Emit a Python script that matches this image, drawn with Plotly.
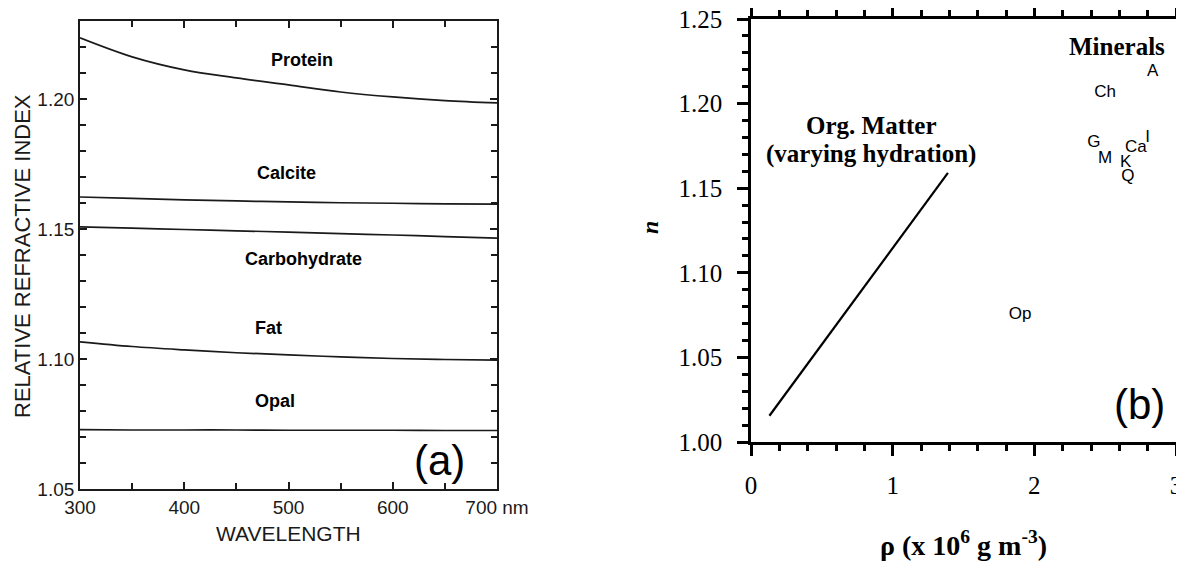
"""Two-panel figure: refractive index vs wavelength (a) and vs density (b)."""
import plotly.graph_objects as go

# ---- panel (a): relative refractive index vs wavelength ----
wavelength = [300, 350, 400, 450, 500, 550, 600, 650, 700]
protein = [1.2235, 1.2162, 1.2112, 1.2081, 1.2054, 1.2027, 1.2008, 1.1994, 1.1985]
calcite = [1.1623, 1.1618, 1.1612, 1.1608, 1.1604, 1.1601, 1.1599, 1.1597, 1.1596]
carbohydrate = [1.1508, 1.1503, 1.1498, 1.1493, 1.1488, 1.1482, 1.1477, 1.1471, 1.1465]
fat = [1.1066, 1.1048, 1.1035, 1.1024, 1.1016, 1.1008, 1.1002, 1.0998, 1.0996]
opal = [1.0728, 1.0727, 1.0727, 1.0727, 1.0726, 1.0726, 1.0726, 1.0725, 1.0725]
curve_names = ["Protein", "Calcite", "Carbohydrate", "Fat", "Opal"]
wl_ticks = [300, 400, 500, 600, 700]
wl_labels = ["300", "400", "500", "600", "700 nm"]
ri_ticks = [1.05, 1.10, 1.15, 1.20]

# ---- panel (b): n vs density ----
org_rho = [0.13, 1.39]
org_n = [1.0155, 1.159]
mineral_names = ["A", "Ch", "G", "M", "Ca", "I", "K", "Q", "Op"]
mineral_rho = [2.835, 2.50, 2.42, 2.50, 2.716, 2.80, 2.645, 2.66, 1.90]
mineral_n = [1.2188, 1.2064, 1.177, 1.1675, 1.174, 1.180, 1.165, 1.157, 1.075]
rho_ticks = [0, 1, 2, 3]
n_ticks = [1.00, 1.05, 1.10, 1.15, 1.20, 1.25]

SANS = "Liberation Sans, Arial, sans-serif"
SERIF = "Liberation Serif, Times New Roman, serif"
INK = "#1a1a1a"
# the page body has an 8px margin, so positions are shifted by it
OFF = 8
W, H = 1184 - OFF, 561 - OFF


def px(x):
    return (x - OFF) / W


def py(y):
    return 1 - (y - OFF) / H


def paper_text(x, y, text, font, angle=0):
    fig.add_annotation(x=px(x), y=py(y), xref="paper", yref="paper", text=text,
                       textangle=angle, showarrow=False, xanchor="center", yanchor="middle",
                       font=font)


fig = go.Figure()

for series in [protein, calcite, carbohydrate, fat, opal]:
    fig.add_trace(go.Scatter(
        x=wavelength, y=series, mode="lines", line=dict(color=INK, width=1.7, shape="spline"),
        xaxis="x", yaxis="y", showlegend=False, hoverinfo="skip",
    ))

fig.add_trace(go.Scatter(
    x=org_rho, y=org_n, mode="lines", line=dict(color="black", width=2.2),
    xaxis="x2", yaxis="y2", showlegend=False,
))
fig.add_trace(go.Scatter(
    x=mineral_rho, y=mineral_n, mode="text", text=mineral_names,
    textfont=dict(family=SANS, size=17, color="black"),
    xaxis="x2", yaxis="y2", showlegend=False,
))

label_pos = {"Protein": (513, 1.215), "Calcite": (498, 1.1715), "Carbohydrate": (514, 1.1385),
             "Fat": (481, 1.112), "Opal": (487, 1.084)}
for name in curve_names:
    x, y = label_pos[name]
    fig.add_annotation(x=x, y=y, xref="x", yref="y", text=f"<b>{name}</b>", showarrow=False,
                       font=dict(family=SANS, size=18, color="black"))

fig.add_annotation(x=645, y=1.0608, xref="x", yref="y", text="(a)", showarrow=False,
                   font=dict(family=SANS, size=42, color="black"))
paper_text(22, 256, "RELATIVE REFRACTIVE INDEX", dict(family=SANS, size=22, color=INK), angle=-90)
paper_text(288, 533, "WAVELENGTH", dict(family=SANS, size=21, color=INK))

fig.add_annotation(x=2.58, y=1.2335, xref="x2", yref="y2", text="<b>Minerals</b>", showarrow=False,
                   font=dict(family=SERIF, size=25, color="black"))
fig.add_annotation(x=0.85, y=1.187, xref="x2", yref="y2", text="<b>Org. Matter</b>", showarrow=False,
                   font=dict(family=SERIF, size=25, color="black"))
fig.add_annotation(x=0.85, y=1.1705, xref="x2", yref="y2", text="<b>(varying hydration)</b>",
                   showarrow=False, font=dict(family=SERIF, size=25, color="black"))
fig.add_annotation(x=2.74, y=1.0224, xref="x2", yref="y2", text="(b)", showarrow=False,
                   font=dict(family=SANS, size=42, color="black"))
paper_text(650, 228, "<b><i>n</i></b>", dict(family=SERIF, size=24, color="black"), angle=-90)
paper_text(963, 543, "<b>ρ (x 10<sup>6</sup> g m<sup>-3</sup>)</b>",
           dict(family=SERIF, size=28, color="black"))

axis_a = dict(showgrid=False, zeroline=False, showline=True, linecolor=INK, linewidth=1.7,
              mirror="ticks", ticks="inside", ticklen=7, tickwidth=1.5, tickcolor=INK,
              automargin=False, ticklabeloverflow="allow",
              tickfont=dict(family=SANS, size=19, color=INK))
fig.update_layout(
    xaxis=dict(axis_a, domain=[px(80), px(497)], range=[300, 700], anchor="y",
               tickvals=wl_ticks, ticktext=wl_labels,
               minor=dict(dtick=50, ticks="inside", ticklen=6, tickcolor=INK)),
    yaxis=dict(axis_a, domain=[py(489), py(21)], range=[1.05, 1.23], anchor="x",
               tickvals=ri_ticks, ticktext=[f"{v:.2f}" for v in ri_ticks],
               minor=dict(dtick=0.01, tick0=1.05, ticks="inside", ticklen=6, tickcolor=INK)),
)

axis_b = dict(showgrid=False, zeroline=False, showline=True, linecolor="black", linewidth=2.6,
              mirror="ticks", ticks="outside", ticklen=11, tickwidth=2.6, tickcolor="black",
              automargin=False, ticklabeloverflow="allow",
              tickfont=dict(family=SERIF, size=25, color="black"))
fig.update_layout(
    xaxis2=dict(axis_b, domain=[px(751), px(1176)], range=[0, 3], anchor="y2",
                tickvals=rho_ticks, ticklabelstandoff=8,
                minor=dict(dtick=0.2, ticks="outside", ticklen=6, tickwidth=2.6, tickcolor="black")),
    yaxis2=dict(axis_b, domain=[py(442), py(19)], range=[1.00, 1.25], anchor="x2",
                tickvals=n_ticks, ticktext=[f"{v:.2f}" for v in n_ticks], ticklabelstandoff=10,
                minor=dict(dtick=0.01, tick0=1.0, ticks="outside", ticklen=6, tickwidth=2.6,
                           tickcolor="black")),
)

fig.update_layout(
    width=W, height=H, margin=dict(l=0, r=0, t=0, b=0, pad=0, autoexpand=False),
    paper_bgcolor="white", plot_bgcolor="white",
)

fig.write_html("out.html")
